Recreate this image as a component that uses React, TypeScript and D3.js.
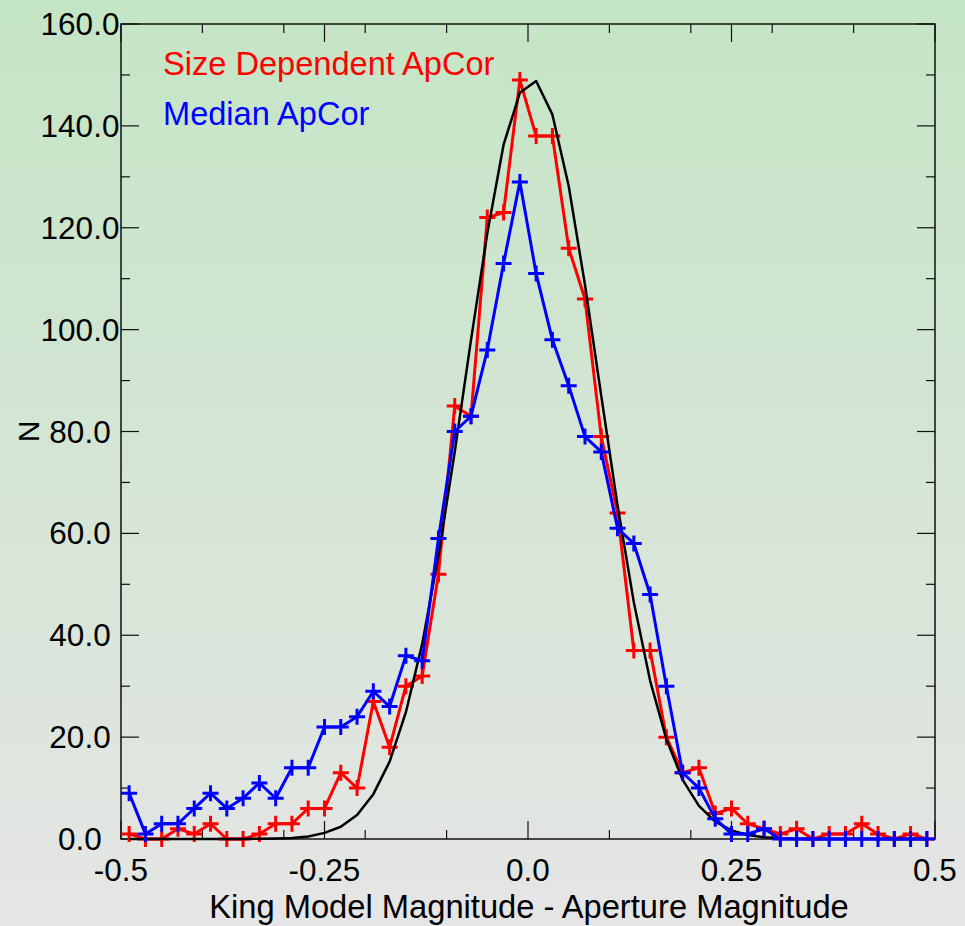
import React from "react";
import * as d3 from "d3";

const binCenters = [
  -0.49, -0.47, -0.45, -0.43, -0.41, -0.39, -0.37, -0.35, -0.33, -0.31,
  -0.29, -0.27, -0.25, -0.23, -0.21, -0.19, -0.17, -0.15, -0.13, -0.11,
  -0.09, -0.07, -0.05, -0.03, -0.01, 0.01, 0.03, 0.05, 0.07, 0.09,
  0.11, 0.13, 0.15, 0.17, 0.19, 0.21, 0.23, 0.25, 0.27, 0.29,
  0.31, 0.33, 0.35, 0.37, 0.39, 0.41, 0.43, 0.45, 0.47, 0.49,
];

const sizeDependent = [
  1, 0, 0, 2, 1, 3, 0, 0, 1, 3,
  3, 6, 6, 13, 10, 27, 18, 30, 32, 52,
  85, 83, 122, 123, 149, 138, 138, 116, 106, 79,
  64, 37, 37, 20, 13, 14, 5, 6, 3, 2,
  1, 2, 0, 1, 1, 3, 1, 0, 1, 0,
];

const medianApCor = [
  9, 1, 3, 3, 6, 9, 6, 8, 11, 8,
  14, 14, 22, 22, 24, 29, 26, 36, 35, 59,
  80, 83, 96, 113, 129, 111, 98, 89, 79, 76,
  61, 58, 48, 30, 13, 10, 4, 1, 1, 2,
  0, 0, 0, 0, 0, 0, 0, 0, 0, 0,
];

const modelFit = [
  0, 0, 0, 0, 0, 0, 0, 0.01, 0.04, 0.1,
  0.2, 0.5, 1.2, 2.4, 4.7, 8.8, 15.2, 24.9, 38.3, 55.6,
  76.0, 98.0, 118.9, 136.3, 146.5, 148.8, 142.2, 128.2, 108.8, 87.0,
  65.5, 46.5, 31.1, 19.6, 11.6, 6.5, 3.4, 1.7, 0.8, 0.35,
  0.15, 0.06, 0.02, 0, 0, 0, 0, 0, 0, 0,
];

const xMajorTicks = [-0.5, -0.25, 0, 0.25, 0.5];
const xMajorLabels = ["-0.5", "-0.25", "0.0", "0.25", "0.5"];
const xMinorTicks = [-0.4, -0.3, -0.2, -0.1, 0.1, 0.2, 0.3, 0.4];
const yMajorTicks = [0, 20, 40, 60, 80, 100, 120, 140, 160];
const yMajorLabels = ["0.0", "20.0", "40.0", "60.0", "80.0", "100.0", "120.0", "140.0", "160.0"];
const yMinorTicks = [10, 30, 50, 70, 90, 110, 130, 150];

const seriesNames = ["Size Dependent ApCor", "Median ApCor"];

const W = 965;
const H = 926;
const L = 121;
const R = 935;
const T = 24;
const B = 839;
const FONT = "'Liberation Sans', Arial, Helvetica, sans-serif";

export default function App() {
  const x = d3.scaleLinear().domain([-0.5, 0.5]).range([L, R]);
  const y = d3.scaleLinear().domain([0, 160]).range([B, T]);

  const line = d3
    .line<number>()
    .x((_, i) => x(binCenters[i]))
    .y((d) => y(d));

  const plus = (vals: number[], color: string) =>
    vals.map((v, i) => {
      const cx = x(binCenters[i]);
      const cy = y(v);
      return (
        <path
          key={i}
          d={`M${cx - 8},${cy}H${cx + 8}M${cx},${cy - 8}V${cy + 8}`}
          stroke={color}
          strokeWidth={3}
          fill="none"
        />
      );
    });

  const axisColor = "#111";
  const major = 18;
  const minor = 9;

  return (
    <svg
      width={W}
      height={H}
      style={{ position: "absolute", left: 0, top: 0, display: "block" }}
    >
      <defs>
        <linearGradient id="bg" x1="0" y1="0" x2="0" y2="1">
          <stop offset="0" stopColor="rgb(196,229,197)" />
          <stop offset="1" stopColor="rgb(229,229,229)" />
        </linearGradient>
      </defs>
      <rect x={0} y={0} width={W} height={H} fill="url(#bg)" />

      {/* frame */}
      <rect x={L} y={T} width={R - L} height={B - T} fill="none" stroke={axisColor} strokeWidth={1.5} />

      {/* x ticks */}
      {xMajorTicks.map((t) => (
        <g key={"xM" + t}>
          <line x1={x(t)} x2={x(t)} y1={B} y2={B - major} stroke={axisColor} strokeWidth={1.2} />
          <line x1={x(t)} x2={x(t)} y1={T} y2={T + major} stroke={axisColor} strokeWidth={1.2} />
        </g>
      ))}
      {xMinorTicks.map((t) => (
        <g key={"xm" + t}>
          <line x1={x(t)} x2={x(t)} y1={B} y2={B - minor} stroke={axisColor} strokeWidth={1.2} />
          <line x1={x(t)} x2={x(t)} y1={T} y2={T + minor} stroke={axisColor} strokeWidth={1.2} />
        </g>
      ))}
      {/* y ticks */}
      {yMajorTicks.map((t) => (
        <g key={"yM" + t}>
          <line x1={L} x2={L + major} y1={y(t)} y2={y(t)} stroke={axisColor} strokeWidth={1.2} />
          <line x1={R} x2={R - major} y1={y(t)} y2={y(t)} stroke={axisColor} strokeWidth={1.2} />
        </g>
      ))}
      {yMinorTicks.map((t) => (
        <g key={"ym" + t}>
          <line x1={L} x2={L + minor} y1={y(t)} y2={y(t)} stroke={axisColor} strokeWidth={1.2} />
          <line x1={R} x2={R - minor} y1={y(t)} y2={y(t)} stroke={axisColor} strokeWidth={1.2} />
        </g>
      ))}

      {/* series */}
      <g>
        <path d={line(sizeDependent) || ""} stroke="#ff0000" strokeWidth={3} fill="none" strokeLinejoin="round" />
        <g>{plus(sizeDependent, "#ff0000")}</g>
        <path d={line(modelFit) || ""} stroke="#000" strokeWidth={2.5} fill="none" strokeLinejoin="round" />
        <path d={line(medianApCor) || ""} stroke="#0000ff" strokeWidth={3} fill="none" strokeLinejoin="round" />
        <g>{plus(medianApCor, "#0000ff")}</g>
      </g>

      {/* tick labels */}
      <g fontFamily={FONT} fontSize={31.5} fill="#000">
        {xMajorTicks.map((t, i) => (
          <text key={"xl" + t} x={x(t)} y={881} textAnchor="middle">
            {xMajorLabels[i]}
          </text>
        ))}
        {yMajorTicks.map((t, i) => (
          <text key={"yl" + t} x={80} y={y(t) + 11} textAnchor="middle">
            {yMajorLabels[i]}
          </text>
        ))}
      </g>

      {/* axis titles */}
      <text x={529} y={918} textAnchor="middle" fontFamily={FONT} fontSize={32.7} fill="#000">
        King Model Magnitude - Aperture Magnitude
      </text>
      <text
        transform={`translate(39,${(T + B) / 2}) rotate(-90)`}
        textAnchor="middle"
        fontFamily={FONT}
        fontSize={30}
        fill="#000"
      >
        N
      </text>

      {/* legend */}
      <text x={163} y={75} fontFamily={FONT} fontSize={32.6} fill="#ff0000">
        {seriesNames[0]}
      </text>
      <text x={163} y={125} fontFamily={FONT} fontSize={32.6} fill="#0000ff">
        {seriesNames[1]}
      </text>
    </svg>
  );
}
